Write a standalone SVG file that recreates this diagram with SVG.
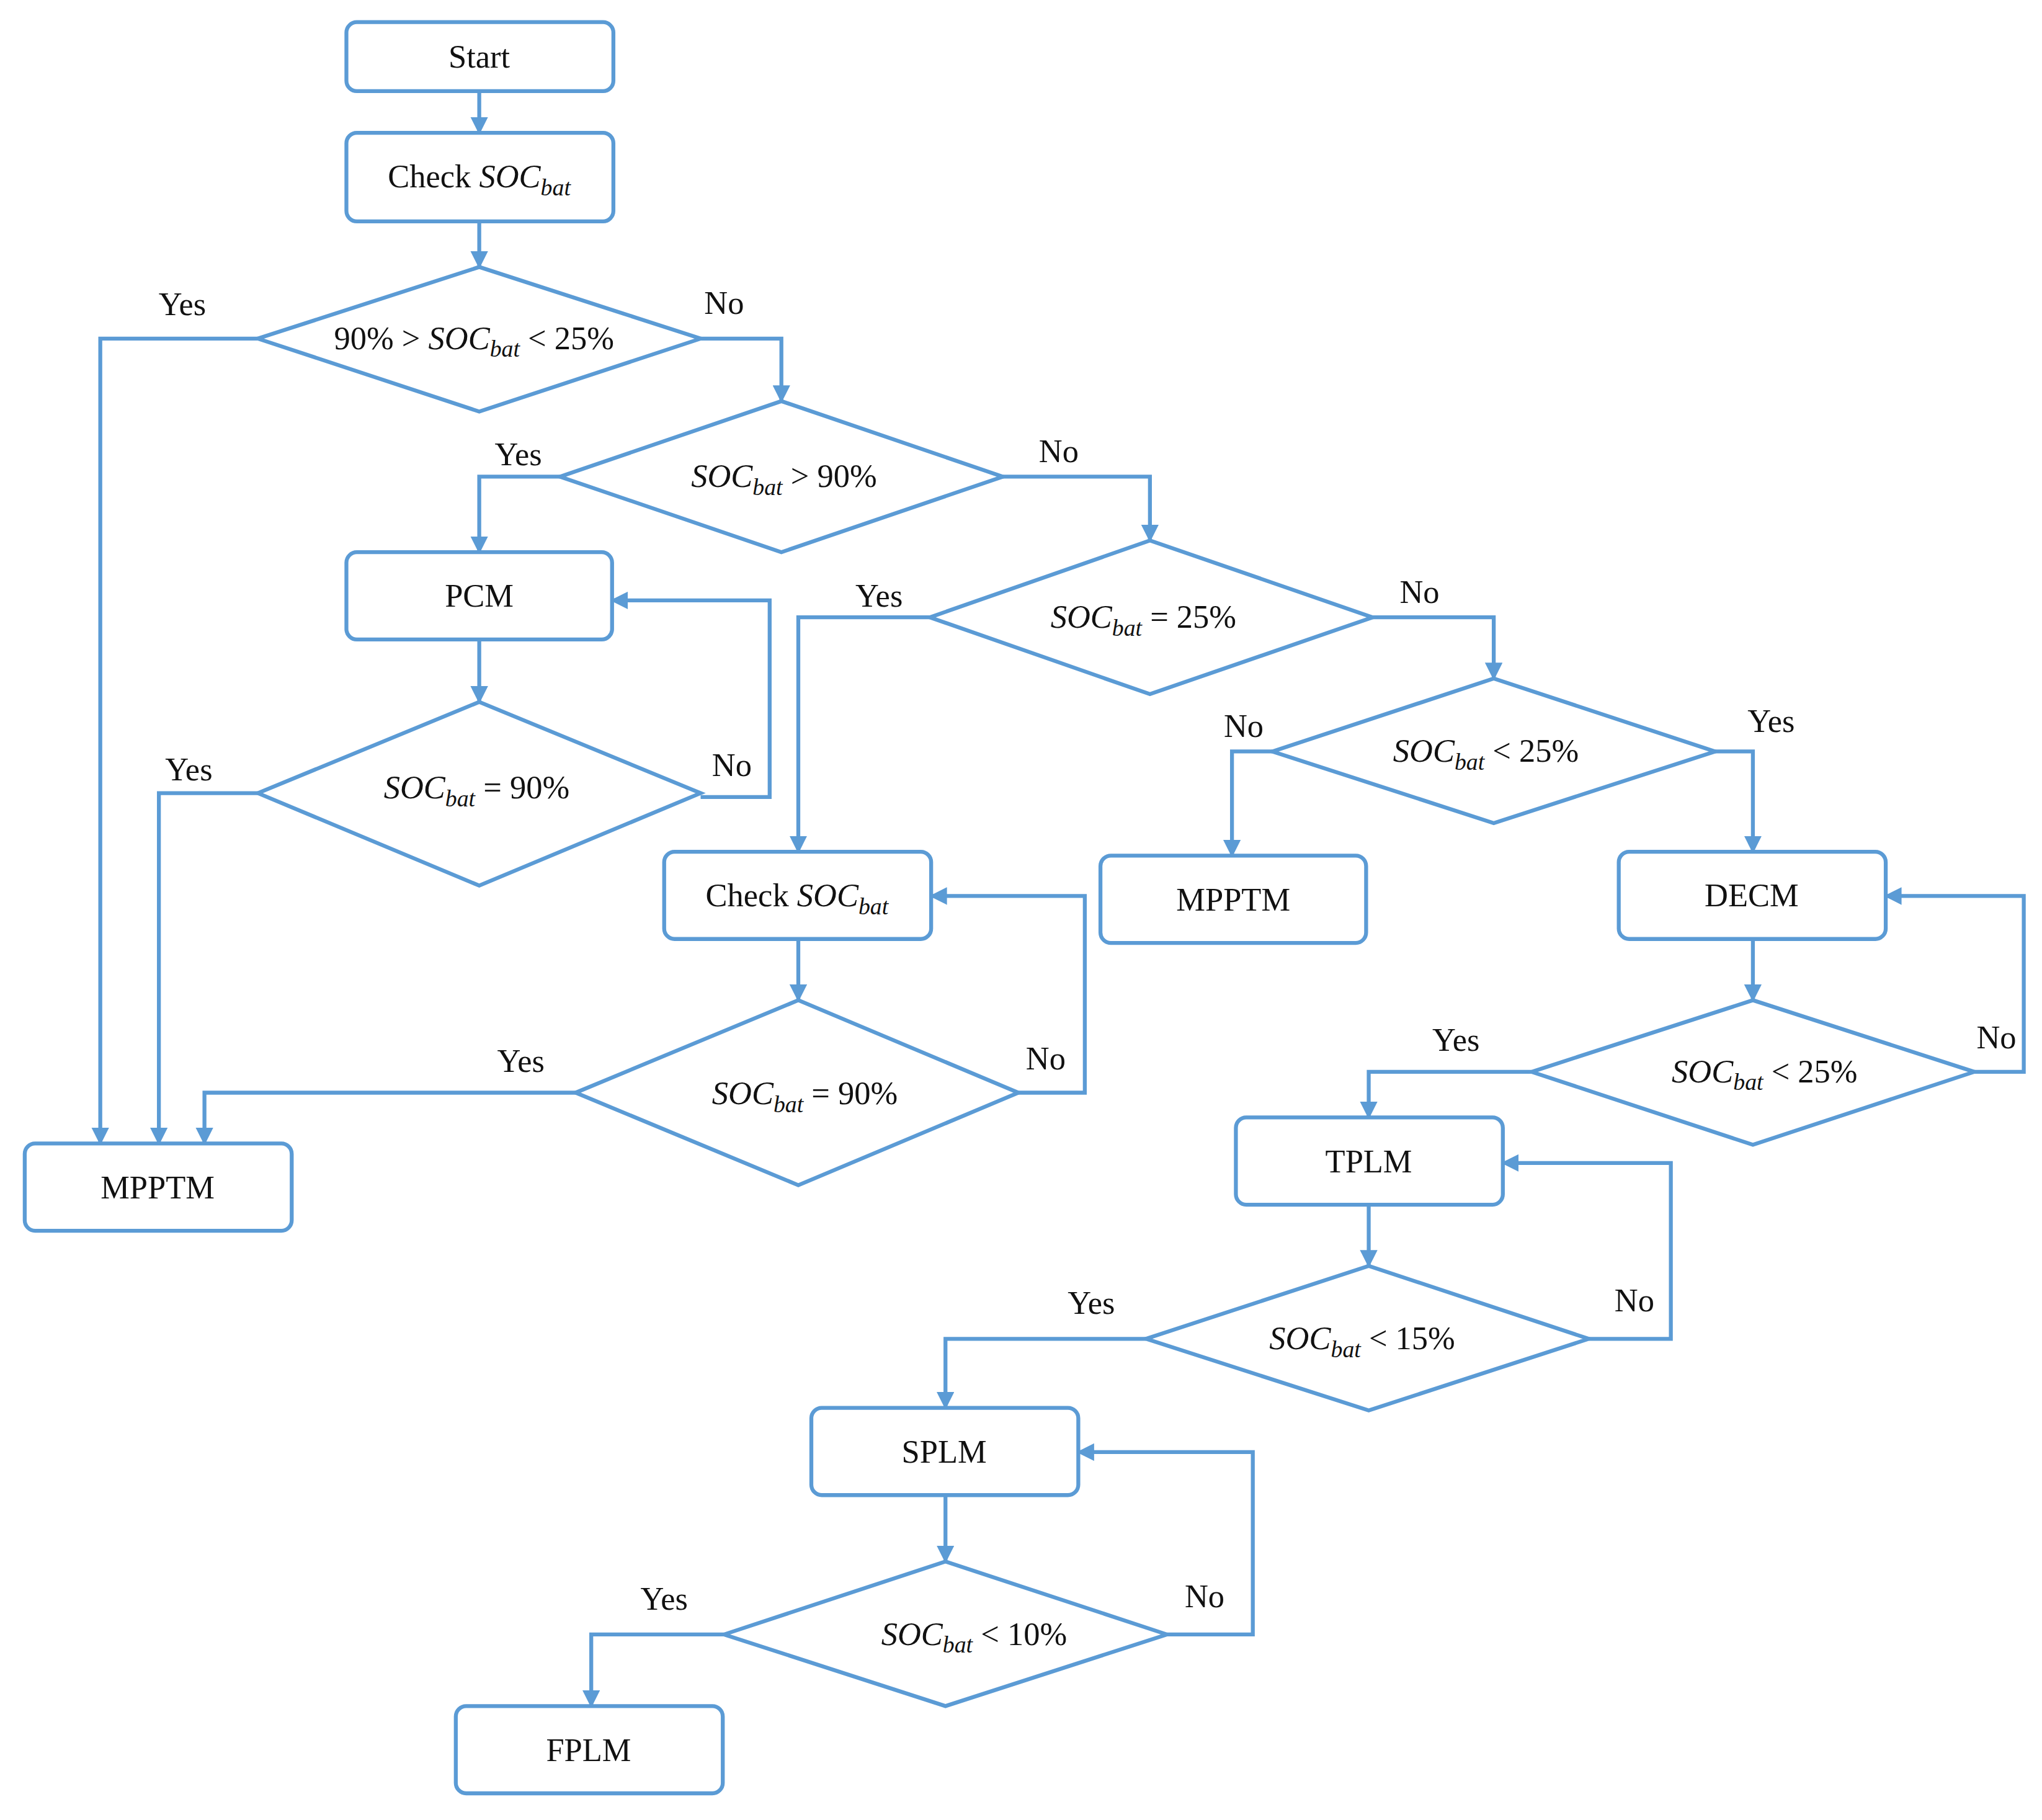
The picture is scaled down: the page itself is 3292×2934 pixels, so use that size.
<svg xmlns="http://www.w3.org/2000/svg" width="3292" height="2934" viewBox="0 0 3292 2934">
<style>
.n{fill:#fff;stroke:#5b9bd5;stroke-width:3}
.c{fill:none;stroke:#5b9bd5;stroke-width:3}
text{font-family:"Liberation Serif",serif;font-size:25px;fill:#111;text-anchor:middle}
.l{font-size:24px}
.i{font-style:italic}
.s{font-style:italic;font-size:18px}
</style>
<defs><marker id="a" viewBox="0 0 10 10" refX="9" refY="5" markerWidth="4.5" markerHeight="4.5" orient="auto" markerUnits="strokeWidth"><path d="M0,0L10,5L0,10z" fill="#5b9bd5"/></marker></defs>
<rect width="3292" height="2934" fill="#fff"/>
<g transform="scale(2.0995)">
<g id="connectors" class="c" marker-end="url(#a)">
<path d="M368,70V102"/><path d="M368,170V205"/>
<path d="M198,260H77V878"/><path d="M538,260H600V308"/>
<path d="M430,366H368V424"/><path d="M770,366H883V415"/>
<path d="M368,491V539"/><path d="M538,612H591V461H470"/>
<path d="M198,609H122V878"/>
<path d="M714,474H613V654"/><path d="M1054,474H1147V521"/>
<path d="M977,577H946V657"/><path d="M1317,577H1346V654"/>
<path d="M613,721V768"/><path d="M782,839H833V688H715"/>
<path d="M442,839H157V878"/>
<path d="M1346,721V768"/><path d="M1516,823H1554V688H1448"/>
<path d="M1176,823H1051V858"/>
<path d="M1051,925V972"/><path d="M1220,1028H1283V893H1154"/>
<path d="M880,1028H726V1081"/>
<path d="M726,1148V1199"/><path d="M896,1255H962V1115H828"/>
<path d="M556,1255H454V1310"/>
</g>
<g id="labels" class="l">
<text x="140" y="242">Yes</text><text x="556" y="241">No</text>
<text x="398" y="357">Yes</text><text x="813" y="355">No</text>
<text x="562" y="596">No</text><text x="145" y="599">Yes</text>
<text x="675" y="466">Yes</text><text x="1090" y="463">No</text>
<text x="955" y="566">No</text><text x="1360" y="562">Yes</text>
<text x="803" y="821">No</text><text x="400" y="823">Yes</text>
<text x="1533" y="805">No</text><text x="1118" y="807">Yes</text>
<text x="1255" y="1007">No</text><text x="838" y="1009">Yes</text>
<text x="925" y="1234">No</text><text x="510" y="1236">Yes</text>
</g>
<g id="start"><rect class="n" x="266" y="17" width="205" height="53" rx="8"/><text x="368" y="52">Start</text></g>
<g id="check1"><rect class="n" x="266" y="102" width="205" height="68" rx="8"/><text x="368" y="144">Check <tspan class="i">SOC</tspan><tspan class="s" dy="6">bat</tspan></text></g>
<g id="d1"><path class="n" d="M198,260L368,205L538,260L368,316Z"/><text x="364" y="268">90% &gt; <tspan class="i">SOC</tspan><tspan class="s" dy="6">bat</tspan><tspan dy="-6"> &lt; 25%</tspan></text></g>
<g id="d2"><path class="n" d="M430,366L600,308L770,366L600,424Z"/><text x="602" y="374"><tspan class="i">SOC</tspan><tspan class="s" dy="6">bat</tspan><tspan dy="-6"> &gt; 90%</tspan></text></g>
<g id="pcm"><rect class="n" x="266" y="424" width="204" height="67" rx="8"/><text x="368" y="466">PCM</text></g>
<g id="d3"><path class="n" d="M714,474L883,415L1054,474L883,533Z"/><text x="878" y="482"><tspan class="i">SOC</tspan><tspan class="s" dy="6">bat</tspan><tspan dy="-6"> = 25%</tspan></text></g>
<g id="d4"><path class="n" d="M198,609L368,539L538,609L368,680Z"/><text x="366" y="613"><tspan class="i">SOC</tspan><tspan class="s" dy="6">bat</tspan><tspan dy="-6">  =  90%</tspan></text></g>
<g id="d5"><path class="n" d="M977,577L1147,521L1317,577L1147,632Z"/><text x="1141" y="585"><tspan class="i">SOC</tspan><tspan class="s" dy="6">bat</tspan><tspan dy="-6"> &lt; 25%</tspan></text></g>
<g id="check2"><rect class="n" x="510" y="654" width="205" height="67" rx="8"/><text x="612" y="696">Check <tspan class="i">SOC</tspan><tspan class="s" dy="6">bat</tspan></text></g>
<g id="mpptm2"><rect class="n" x="845" y="657" width="204" height="67" rx="8"/><text x="947" y="699">MPPTM</text></g>
<g id="decm"><rect class="n" x="1243" y="654" width="205" height="67" rx="8"/><text x="1345" y="696">DECM</text></g>
<g id="d6"><path class="n" d="M442,839L613,768L782,839L613,910Z"/><text x="618" y="848"><tspan class="i">SOC</tspan><tspan class="s" dy="6">bat</tspan><tspan dy="-6">  =  90%</tspan></text></g>
<g id="d7"><path class="n" d="M1176,823L1346,768L1516,823L1346,879Z"/><text x="1355" y="831"><tspan class="i">SOC</tspan><tspan class="s" dy="6">bat</tspan><tspan dy="-6"> &lt; 25%</tspan></text></g>
<g id="mpptm1"><rect class="n" x="19" y="878" width="205" height="67" rx="8"/><text x="121" y="920">MPPTM</text></g>
<g id="tplm"><rect class="n" x="949" y="858" width="205" height="67" rx="8"/><text x="1051" y="900">TPLM</text></g>
<g id="d8"><path class="n" d="M880,1028L1051,972L1220,1028L1051,1083Z"/><text x="1046" y="1036"><tspan class="i">SOC</tspan><tspan class="s" dy="6">bat</tspan><tspan dy="-6"> &lt; 15%</tspan></text></g>
<g id="splm"><rect class="n" x="623" y="1081" width="205" height="67" rx="8"/><text x="725" y="1123">SPLM</text></g>
<g id="d9"><path class="n" d="M556,1255L726,1199L896,1255L726,1310Z"/><text x="748" y="1263"><tspan class="i">SOC</tspan><tspan class="s" dy="6">bat</tspan><tspan dy="-6"> &lt; 10%</tspan></text></g>
<g id="fplm"><rect class="n" x="350" y="1310" width="205" height="67" rx="8"/><text x="452" y="1352">FPLM</text></g>
</g>
</svg>
